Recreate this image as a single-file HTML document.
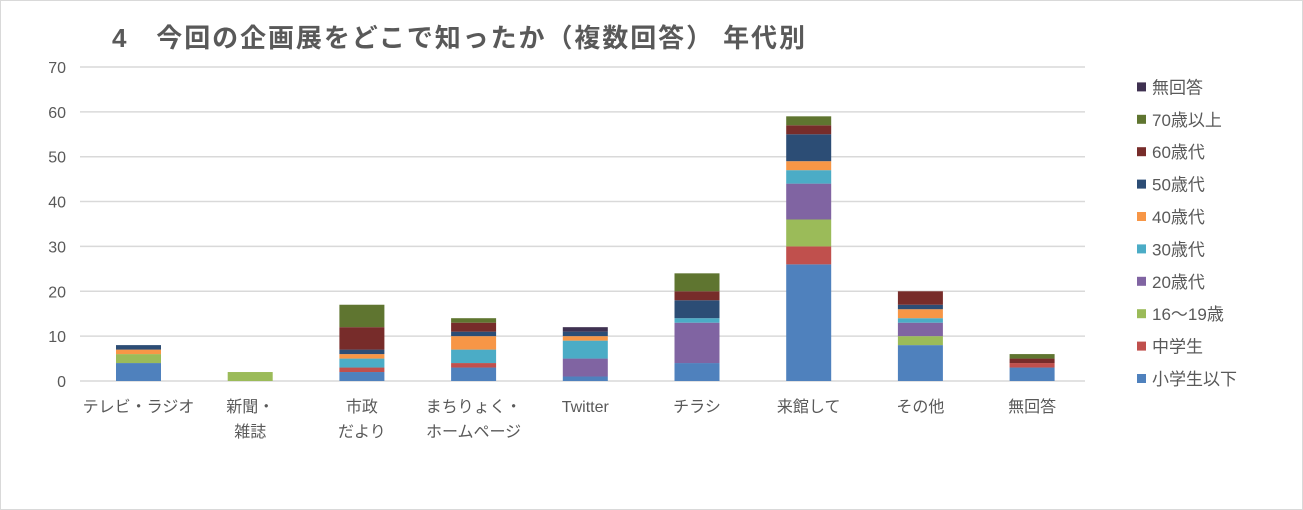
<!DOCTYPE html>
<html><head><meta charset="utf-8"><style>
body{margin:0;background:#fff;}
svg{display:block;font-family:"Liberation Sans","Noto Sans CJK JP",sans-serif;}
</style></head><body>
<svg id="c" width="1303" height="510" xmlns="http://www.w3.org/2000/svg">
<rect x="0.5" y="0.5" width="1302" height="509" fill="#fff" stroke="#d9d9d9"/>
<text x="112" y="47" font-size="26" font-weight="bold" fill="#595959" font-family="'Liberation Sans','Noto Sans CJK JP',sans-serif" textLength="693">4　今回の企画展をどこで知ったか（複数回答） 年代別</text>
<g id="g"></g>
</svg>
<script>
const g=document.getElementById('g');const NS='http://www.w3.org/2000/svg';
function el(t,a,txt){const e=document.createElementNS(NS,t);for(const k in a)e.setAttribute(k,a[k]);if(txt!=null)e.textContent=txt;g.appendChild(e);return e;}
const y0=381,u=4.486;
for(let i=0;i<=7;i++){const y=y0-i*10*u;el('line',{x1:80,x2:1085,y1:y,y2:y,stroke:'#d9d9d9','stroke-width':1.5});el('text',{x:66,y:y+6,'font-size':16,fill:'#595959','text-anchor':'end'},i*10);}
const cols=['#4f81bd','#c0504d','#9bbb59','#8064a2','#4bacc6','#f79646','#2c4d75','#772c2a','#5f7530','#3f3151'];
const names=['小学生以下','中学生','16～19歳','20歳代','30歳代','40歳代','50歳代','60歳代','70歳以上','無回答'];
const data=[[4,0,2,0,0,1,1,0,0,0],[0,0,2,0,0,0,0,0,0,0],[2,1,0,0,2,1,1,5,5,0],[3,1,0,0,3,3,1,2,1,0],[1,0,0,4,4,1,1,0,0,1],[4,0,0,9,1,0,4,2,4,0],[26,4,6,8,3,2,6,2,2,0],[8,0,2,3,1,2,1,3,0,0],[3,1,0,0,0,0,0,1,1,0]];
const labs=[['テレビ・ラジオ'],['新聞・','雑誌'],['市政','だより'],['まちりょく・','ホームページ'],['Twitter'],['チラシ'],['来館して'],['その他'],['無回答']];
data.forEach((d,i)=>{const cx=138.5+i*111.7;let cum=0;d.forEach((v,j)=>{if(!v)return;const yt=y0-(cum+v)*u,yb=y0-cum*u;el('rect',{x:cx-22.5,y:yt,width:45,height:yb-yt,fill:cols[j]});cum+=v;});
labs[i].forEach((l,k)=>el('text',{x:cx,y:412+k*25,'font-size':16,fill:'#595959','text-anchor':'middle'},l));});
for(let j=0;j<10;j++){const y=385-j*32.4;el('rect',{x:1137,y:y-11,width:9,height:9,fill:cols[j]});el('text',{x:1152,y:y,'font-size':17,fill:'#595959'},names[j]);}
</script>
</body></html>
